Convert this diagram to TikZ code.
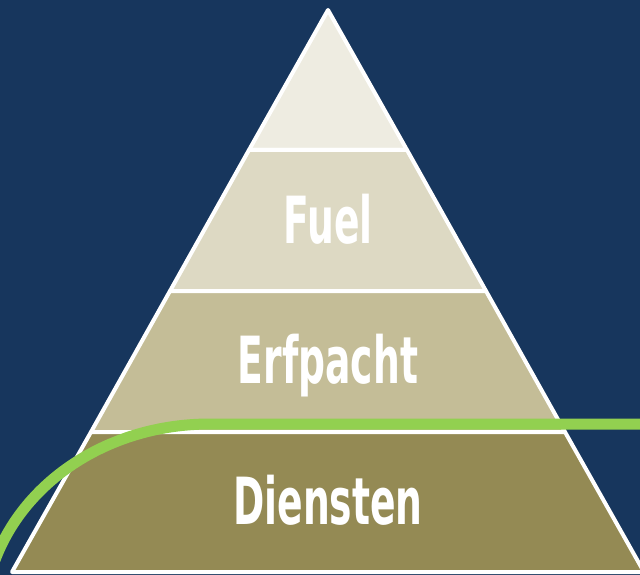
\documentclass[tikz,border=0pt]{standalone}
\usepackage{fontspec}
\newfontfamily\tierfont[FakeStretch=0.58]{DejaVu Sans}
\definecolor{navy}{HTML}{17365D}
\definecolor{tierA}{HTML}{EEECE1}
\definecolor{tierB}{HTML}{DDD9C3}
\definecolor{tierC}{HTML}{C4BD97}
\definecolor{tierD}{HTML}{948A54}
\definecolor{lime}{HTML}{92D050}
\begin{document}
\begin{tikzpicture}[x=1pt,y=-1pt,
    tier/.style={draw=white,line width=4pt,line join=round},
    tierlabel/.style={text=white,inner sep=0pt,anchor=base,
      font=\tierfont\bfseries\fontsize{65}{65}\selectfont}]

    \fill[navy] (0,0) rectangle (640,575);
    \useasboundingbox (0,0) rectangle (640,575);
    \clip (0,0) rectangle (640,575);

    % pyramid corners
    \coordinate (apex) at (328,10);
    \coordinate (l1) at (249,150); \coordinate (r1) at (407,150);
    \coordinate (l2) at (170,291); \coordinate (r2) at (486,291);
    \coordinate (l3) at (91,432);  \coordinate (r3) at (565,432);
    \coordinate (l4) at (12,572);  \coordinate (r4) at (644,572);

    \filldraw[tier,fill=tierA] (apex) -- (r1) -- (l1) -- cycle;
    \filldraw[tier,fill=tierB] (l1) -- (r1) -- (r2) -- (l2) -- cycle;
    \filldraw[tier,fill=tierC] (l2) -- (r2) -- (r3) -- (l3) -- cycle;
    \filldraw[tier,fill=tierD] (l3) -- (r3) -- (r4) -- (l4) -- cycle;

    \node[tierlabel] (fuel)     at (328,243) {Fuel};
    \node[tierlabel] (erfpacht) at (328,383) {Erfpacht};
    \node[tierlabel] (diensten) at (328,524) {Diensten};

    % green line
    \coordinate (gright) at (650,424);
    \coordinate (gbend)  at (210,424);
    \coordinate (gleft)  at (-5,560);
    \draw[lime,line width=11pt] (gright) -- (gbend)
        .. controls (110,424) and (25,480) .. (gleft);
\end{tikzpicture}
\end{document}
